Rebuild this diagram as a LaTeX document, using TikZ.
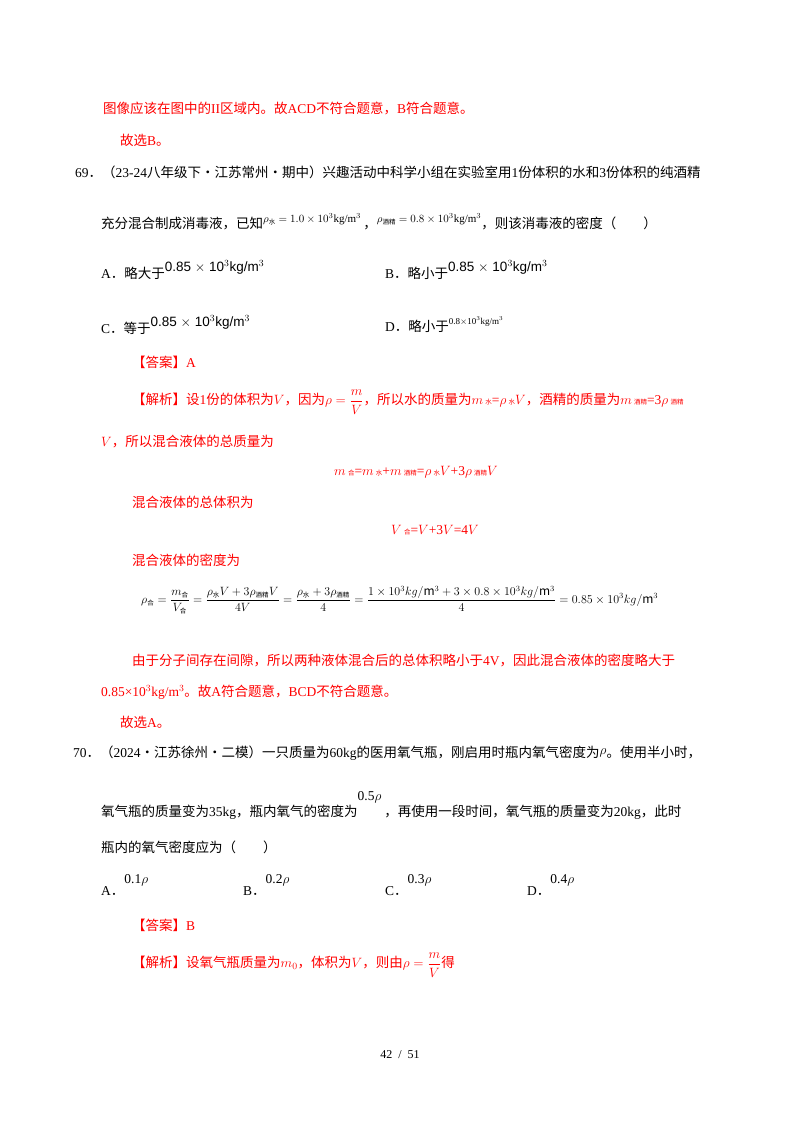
\RequirePackage{fix-cm}
\documentclass[tikz,border=0pt]{standalone}
\usepackage{fontspec}
\setmainfont{Noto Sans CJK SC}
\newfontfamily\lt{Liberation Serif}
\newfontfamily\ls{Liberation Sans}
\newcommand{\zs}[1]{\hbox{\fontsize{6.5}{7}\selectfont #1}}
\newcommand{\LT}[1]{{\lt #1}}
\definecolor{ansred}{RGB}{255,0,0}
\tikzset{
  txt/.style={anchor=west,inner sep=0pt,font=\fontsize{13.5}{16}\selectfont},
  red/.style={txt,text=ansred}
}
\begin{document}
\begin{tikzpicture}[x=1pt,y=1pt]
\useasboundingbox[fill=white] (0,0) rectangle (800,-1132);
\node[red] (l1) at (103,-108) {图像应该在图中的\LT{II}区域内。故\LT{ACD}不符合题意，\LT{B}符合题意。};
\node[red] (l2) at (120,-140) {故选\LT{B}。};
\node[txt] (q69) at (75,-172) {\LT{69}．（\LT{23-24}八年级下·江苏常州·期中）兴趣活动中科学小组在实验室用\LT{1}份体积的水和\LT{3}份体积的纯酒精};
\node[txt] (q69b) at (101,-222) {充分混合制成消毒液，已知\raisebox{6pt}{\fontsize{11}{13}\selectfont$\rho_{\zs{水}}$\LT{ $=1.0\times10^3$kg/m$^3$}}\,，\raisebox{6pt}{\fontsize{11}{13}\selectfont$\rho_{\zs{酒精}}$\LT{ $=0.8\times10^3$kg/m$^3$}}，则该消毒液的密度（\qquad）};
\node[txt] (oA) at (101,-270) {\LT{A}．略大于\raisebox{7pt}{\ls 0.85 $\times$ 10$^3$kg/m$^3$}};
\node[txt] (oB) at (385,-270) {\LT{B}．略小于\raisebox{7pt}{\ls 0.85 $\times$ 10$^3$kg/m$^3$}};
\node[txt] (oC) at (101,-325) {\LT{C}．等于\raisebox{7pt}{\ls 0.85 $\times$ 10$^3$kg/m$^3$}};
\node[txt] (oD) at (385,-325) {\LT{D}．略小于\raisebox{7pt}{\fontsize{9}{11}\selectfont\LT{0.8$\times$10$^3$kg/m$^3$}}};
\node[red] (ans1) at (132,-362) {【答案】\LT{A}};
\node[red] (ex1) at (132,-402) {【解析】设\LT{1}份的体积为$V$，因为$\displaystyle\rho=\frac{m}{V}$，所以水的质量为$m$\,\zs{水}\LT{=}$\rho$\,\zs{水}$V$，酒精的质量为$m$\,\zs{酒精}\LT{=3}$\rho$\,\zs{酒精}};
\node[red] (ex2) at (101,-442) {$V$，所以混合液体的总质量为};
\node[red,anchor=center] (ex3) at (416,-472) {$m$\,\zs{合}\LT{=}$m$\,\zs{水}\LT{+}$m$\,\zs{酒精}\LT{=}$\rho$\,\zs{水}$V$\LT{+3}$\rho$\,\zs{酒精}$V$};
\node[red] (ex4) at (132,-502) {混合液体的总体积为};
\node[red,anchor=center] (ex5) at (435,-530) {$V$\,\zs{合}\LT{=}$V$\LT{+3}$V$\LT{=4}$V$};
\node[red] (ex6) at (132,-560) {混合液体的密度为};
\node[txt,font=\fontsize{12}{14}\selectfont] (eq) at (141,-600) {$\displaystyle \rho_{\zs{合}}=\frac{m_{\zs{合}}}{V_{\zs{合}}}=\frac{\rho_{\zs{水}}V+3\rho_{\zs{酒精}}V}{4V}=\frac{\rho_{\zs{水}}+3\rho_{\zs{酒精}}}{4}=\frac{1\times10^3 kg/\mathrm{m}^3+3\times0.8\times10^3 kg/\mathrm{m}^3}{4}=0.85\times10^3 kg/\mathrm{m}^3$};
\node[red] (ex7) at (132,-660) {由于分子间存在间隙，所以两种液体混合后的总体积略小于\LT{4V}，因此混合液体的密度略大于};
\node[red] (ex8) at (101,-692) {\LT{0.85×10$^3$kg/m$^3$}。故\LT{A}符合题意，\LT{BCD}不符合题意。};
\node[red] (ex9) at (120,-722) {故选\LT{A}。};
\node[txt] (q70) at (73,-753) {\LT{70}．（\LT{2024}·江苏徐州·二模）一只质量为\LT{60kg}的医用氧气瓶，刚启用时瓶内氧气密度为\raisebox{3pt}{$\rho$}。使用半小时，};
\node[txt] (q70b) at (101,-805) {氧气瓶的质量变为\LT{35kg}，瓶内氧气的密度为\raisebox{16pt}{\LT{0.5}$\rho$}\ ，再使用一段时间，氧气瓶的质量变为\LT{20kg}，此时};
\node[txt] (q70c) at (101,-847) {瓶内的氧气密度应为（\qquad）};
\node[txt] (pA) at (101,-885) {\LT{A}．\raisebox{12pt}{\LT{0.1}$\rho$}};
\node[txt] (pB) at (243,-885) {\LT{B}．\raisebox{12pt}{\LT{0.2}$\rho$}};
\node[txt] (pC) at (385,-885) {\LT{C}．\raisebox{12pt}{\LT{0.3}$\rho$}};
\node[txt] (pD) at (527,-885) {\LT{D}．\raisebox{12pt}{\LT{0.4}$\rho$}};
\node[red] (ans2) at (132,-925) {【答案】\LT{B}};
\node[red] (ex10) at (132,-965) {【解析】设氧气瓶质量为$m_0$，体积为$V$，则由$\displaystyle\rho=\frac{m}{V}$得};
\node[anchor=center,inner sep=0pt,font=\fontsize{12}{14}\selectfont] (pg) at (400,-1055) {\LT{42\ \ /\ \ 51}};
\end{tikzpicture}
\end{document}
